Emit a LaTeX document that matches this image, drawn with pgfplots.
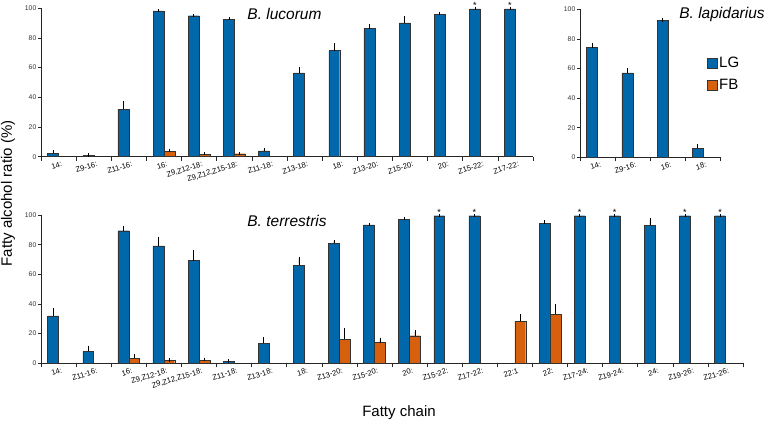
\documentclass[border=0pt]{standalone}
\usepackage{pgfplots}
\pgfplotsset{compat=1.18}
\usepackage{fontspec}
\setmainfont{Liberation Sans}
\definecolor{cLG}{RGB}{0,104,170}
\definecolor{cFB}{RGB}{214,96,14}
\pgfplotsset{
  panel/.style={
    scale only axis, anchor=south west,
    ymin=0, ymax=100, ytick={0,20,...,100},
    axis x line*=bottom, axis y line*=left,
    axis line style={black!85, line width=0.7pt},
    tick align=outside, major tick length=3pt, minor tick length=4pt,
    major x tick style={draw=none},
    minor x tick style={black!85, line width=0.6pt},
    ytick style={black!85, line width=0.6pt},
    /pgf/number format/assume math mode=true,
    yticklabel style={font=\fontsize{6.8}{7}\selectfont, text=black!80, inner sep=1.5pt},
    xticklabel style={font=\fontsize{7.6}{8}\selectfont, rotate=17, anchor=north east, inner sep=1pt, xshift=3pt, yshift=-1pt},
    clip=false,
    legend image code/.code={\draw[#1] (0pt,-5pt) rectangle (10pt,5pt);},
  },
  barLG/.style={ybar, bar width=0.31, bar shift=0pt, fill=cLG, draw=black!80, line width=0.4pt,
    error bars/.cd, y dir=plus, y explicit, error bar style={black, line width=0.6pt}, error mark options={black, mark size=1.6pt, line width=0.6pt}},
  barFB/.style={ybar, bar width=0.31, bar shift=0pt, fill=cFB, draw=black!80, line width=0.4pt,
    error bars/.cd, y dir=plus, y explicit, error bar style={black, line width=0.6pt}, error mark options={black, mark size=1.6pt, line width=0.6pt}},
  stars/.style={ybar, bar width=0.31, bar shift=0pt, draw=none, fill=none,
    nodes near coords={*}, every node near coord/.style={font=\fontsize{9}{9}\selectfont, text=black, inner sep=0.5pt, anchor=south}},
}
\begin{document}
\begin{tikzpicture}
\useasboundingbox (0pt,0pt) rectangle (766pt,426pt);
% ---------- B. lucorum ----------
\begin{axis}[panel, at={(41pt,269.3pt)}, width=492pt, height=148.4pt,
  xmin=-0.5, xmax=13.5,
  xtick={0,...,13}, minor xtick={-0.5,0.5,...,13.5},
  xticklabels={14:, Z9-16:, Z11-16:, 16:, {Z9,Z12-18:}, {Z9,Z12,Z15-18:}, Z11-18:, Z13-18:, 18:, Z13-20:, Z15-20:, 20:, Z15-22:, Z17-22:}]
\addplot[barLG] coordinates {
 (-0.155,2.3) +- (0,1.1)
 (0.845,0.8) +- (0,0.3)
 (1.845,32) +- (0,4.5)
 (2.845,98.2) +- (0,0.4)
 (3.845,95) +- (0,0.4)
 (4.845,92.5) +- (0,0.5)
 (5.845,4.0) +- (0,0.9)
 (6.845,56.5) +- (0,3)
 (7.845,71.5) +- (0,4)
 (8.845,86.3) +- (0,2)
 (9.845,90.2) +- (0,3.5)
 (10.845,95.7) +- (0,0.6)
 (11.845,99.6) +- (0,0)
 (12.845,99.6) +- (0,0)
};
\addplot[barFB] coordinates {
 (3.155,3.4) +- (0,0.8)
 (4.155,1.8) +- (0,0.3)
 (5.155,2.0) +- (0,0.3)
};
\addplot[stars] coordinates {(11.845,99.6) (12.845,99.6)};
\end{axis}
% ---------- B. lapidarius ----------
\begin{axis}[panel, at={(580pt,268.7pt)}, width=140.7pt, height=148pt,
  xmin=-0.5, xmax=3.5,
  xtick={0,...,3}, minor xtick={-0.5,0.5,...,3.5},
  xticklabels={14:, Z9-16:, 16:, 18:},
  legend style={at={(0.9,0.69)}, anchor=north west, draw=none, fill=none,
    font=\fontsize{15}{15}\selectfont, inner sep=0pt, row sep=6pt, cells={anchor=west}}]
\addplot[barLG] coordinates {
 (-0.155,74.1) +- (0,2.3)
 (0.845,57) +- (0,2.5)
 (1.845,92.3) +- (0,0.5)
 (2.845,6.1) +- (0,1.5)
};
\addlegendentry{LG}
\addlegendimage{fill=cFB, draw=black!80, line width=0.4pt}
\addlegendentry{FB}
\end{axis}
% ---------- B. terrestris ----------
\begin{axis}[panel, at={(41pt,62.7pt)}, width=702pt, height=148.3pt,
  xmin=-0.5, xmax=19.5,
  xtick={0,...,19}, minor xtick={-0.5,0.5,...,19.5},
  xticklabels={14:, Z11-16:, 16:, {Z9,Z12-18:}, {Z9,Z12,Z15-18:}, Z11-18:, Z13-18:, 18:, Z13-20:, Z15-20:, 20:, Z15-22:, Z17-22:, 22:1, 22:, Z17-24:, Z19-24:, 24:, Z19-26:, Z21-26:}]
\addplot[barLG] coordinates {
 (-0.155,31.9) +- (0,4)
 (0.845,8.1) +- (0,2.7)
 (1.845,89.4) +- (0,2.3)
 (2.845,79.1) +- (0,4.9)
 (3.845,69.2) +- (0,6.1)
 (4.845,1.1) +- (0,0.4)
 (5.845,13.5) +- (0,3.1)
 (6.845,66.1) +- (0,4.7)
 (7.845,80.9) +- (0,1.4)
 (8.845,93.3) +- (0,0.3)
 (9.845,97.3) +- (0,0.3)
 (10.845,99.5) +- (0,0)
 (11.845,99.5) +- (0,0)
 (13.845,94.4) +- (0,0.9)
 (14.845,99.5) +- (0,0)
 (15.845,99.5) +- (0,0)
 (16.845,93) +- (0,3.6)
 (17.845,99.5) +- (0,0)
 (18.845,99.5) +- (0,0)
};
\addplot[barFB] coordinates {
 (2.155,3.4) +- (0,1.7)
 (3.155,1.8) +- (0,0.4)
 (4.155,2.2) +- (0,0.5)
 (8.155,16.2) +- (0,6.3)
 (9.155,13.9) +- (0,2.3)
 (10.155,18.6) +- (0,2.5)
 (13.155,28.3) +- (0,3.6)
 (14.155,33) +- (0,6.1)
};
\addplot[stars] coordinates {(10.845,99.5) (11.845,99.5) (14.845,99.5) (15.845,99.5) (17.845,99.5) (18.845,99.5)};
\end{axis}
% ---------- titles and axis labels ----------
\node[font=\fontsize{15.5}{16}\selectfont\itshape] at (284.5pt,412.5pt) {B. lucorum};
\node[font=\fontsize{15.5}{16}\selectfont\itshape] at (722pt,412pt) {B. lapidarius};
\node[font=\fontsize{15.5}{16}\selectfont\itshape] at (287pt,205pt) {B. terrestris};
\node[font=\fontsize{15}{16}\selectfont, rotate=90] at (8pt,232.5pt) {Fatty alcohol ratio (\%)};
\node[font=\fontsize{15}{16}\selectfont] at (399pt,13pt) {Fatty chain};
\end{tikzpicture}
\end{document}
